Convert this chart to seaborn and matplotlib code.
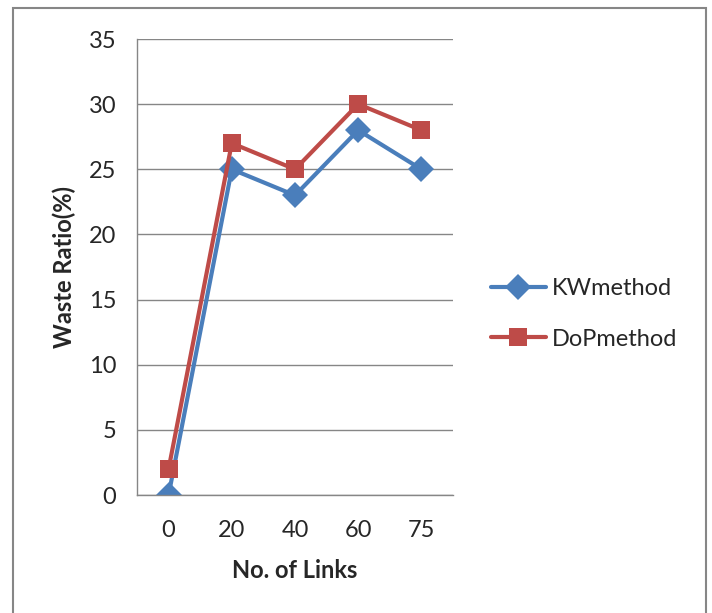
import matplotlib
matplotlib.use("Agg")
import matplotlib.pyplot as plt
from matplotlib.patches import Rectangle
import seaborn as sns
import pandas as pd

LINKS = ["0", "20", "40", "60", "75"]
KW_METHOD = [0, 25, 23, 28, 25]
DOP_METHOD = [2, 27, 25, 30, 28]
SERIES = ["KWmethod", "DoPmethod"]
COLORS = {"KWmethod": "#4a7ebb", "DoPmethod": "#be4b48"}
MARKERS = {"KWmethod": "D", "DoPmethod": "s"}

df = pd.DataFrame({
    "links": LINKS * 2,
    "ratio": KW_METHOD + DOP_METHOD,
    "method": ["KWmethod"] * len(LINKS) + ["DoPmethod"] * len(LINKS),
})

sns.set_style("white")
plt.rcParams["font.family"] = ["Lato", "DejaVu Sans"]

fig = plt.figure(figsize=(7.12, 6.13), dpi=100)
ax = fig.add_axes([137 / 712, 1 - 495 / 613, 316 / 712, 456 / 613])

sns.lineplot(
    data=df, x="links", y="ratio", hue="method", style="method",
    hue_order=SERIES, style_order=SERIES, palette=COLORS, markers=MARKERS,
    dashes=False, sort=False, linewidth=3, markersize=13,
    markeredgewidth=0, ax=ax,
)

handles, labels = ax.get_legend_handles_labels()
ax.get_legend().remove()

ax.set_xlim(-0.5, 4.5)
ax.set_ylim(0, 35)
ax.set_yticks(range(0, 36, 5))
ax.set_xticks([i - 0.5 for i in range(len(LINKS) + 1)], minor=True)
ax.tick_params(axis="x", which="major", length=0, pad=18, labelsize=17)
ax.tick_params(axis="x", which="minor", length=8, color="#868686", width=1)
ax.tick_params(axis="y", length=7, color="#868686", width=1, pad=8, labelsize=17)
ax.grid(axis="y", color="#868686", linewidth=1)
ax.set_axisbelow(True)
for s in ["top", "right"]:
    ax.spines[s].set_visible(False)
for s in ["left", "bottom"]:
    ax.spines[s].set_color("#868686")
    ax.spines[s].set_linewidth(1)

ax.set_xlabel("No. of Links", fontsize=17, fontweight="bold", labelpad=13)
ax.set_ylabel("Waste Ratio(%)", fontsize=17, fontweight="bold", labelpad=9)

fig.legend(handles, labels, loc="center left", bbox_to_anchor=(470 / 712, 1 - 314 / 613),
           frameon=False, fontsize=17, handlelength=2.3, labelspacing=1.25,
           handletextpad=0.25)

fig.patches.append(Rectangle((13 / 712, -0.05), 693 / 712, 1.05 - 8 / 613,
                             transform=fig.transFigure, fill=False,
                             edgecolor="#868686", linewidth=1.5))

fig.savefig("out.png", dpi=100)
